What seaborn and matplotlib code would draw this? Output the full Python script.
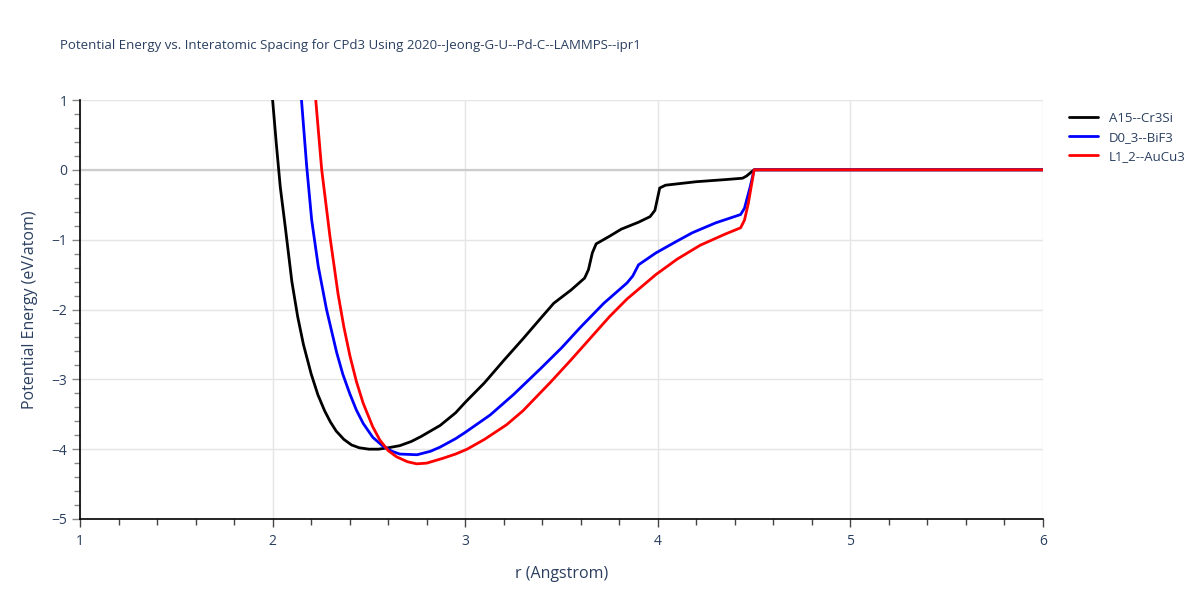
import matplotlib
matplotlib.use("Agg")
import matplotlib.pyplot as plt
import seaborn as sns
import pandas as pd
import numpy as np
from matplotlib.ticker import MultipleLocator

title = "Potential Energy vs. Interatomic Spacing for CPd3 Using 2020--Jeong-G-U--Pd-C--LAMMPS--ipr1"
series_names = ["A15--Cr3Si", "D0_3--BiF3", "L1_2--AuCu3"]
series_colors = ["#000000", "#0000ff", "#ff0000"]

a15_r = [2.0, 2.02, 2.04, 2.065, 2.10, 2.13, 2.16, 2.2, 2.235, 2.27, 2.30, 2.33, 2.37, 2.41,
         2.45, 2.50, 2.55, 2.60, 2.66, 2.72, 2.77, 2.82, 2.87, 2.95, 3.0, 3.1, 3.2, 3.3, 3.4,
         3.46, 3.55, 3.62, 3.64, 3.66, 3.68, 3.75, 3.81, 3.9, 3.96, 3.985, 4.01, 4.04, 4.2,
         4.35, 4.44, 4.46, 4.5, 4.75, 5.0, 5.5, 6.0]
a15_e = [1.0, 0.35, -0.25, -0.8, -1.6, -2.1, -2.5, -2.92, -3.22, -3.45, -3.61, -3.74, -3.86,
         -3.94, -3.98, -4.0, -4.0, -3.98, -3.95, -3.89, -3.82, -3.74, -3.66, -3.48, -3.33,
         -3.05, -2.73, -2.42, -2.1, -1.91, -1.72, -1.55, -1.43, -1.19, -1.06, -0.95, -0.85,
         -0.75, -0.67, -0.58, -0.26, -0.22, -0.17, -0.14, -0.12, -0.09, 0.0, 0.0, 0.0, 0.0, 0.0]

d03_r = [2.15, 2.177, 2.203, 2.237, 2.28, 2.333, 2.365, 2.40, 2.435, 2.47, 2.52, 2.574, 2.62,
         2.66, 2.75, 2.82, 2.87, 2.95, 3.0, 3.13, 3.25, 3.39, 3.5, 3.6, 3.72, 3.84, 3.87, 3.90,
         3.99, 4.1, 4.18, 4.3, 4.43, 4.45, 4.48, 4.5, 4.75, 5.0, 5.5, 6.0]
d03_e = [1.0, 0.05, -0.72, -1.38, -2.0, -2.62, -2.93, -3.2, -3.44, -3.63, -3.83, -3.96, -4.03,
         -4.07, -4.08, -4.03, -3.97, -3.85, -3.76, -3.51, -3.22, -2.85, -2.55, -2.25, -1.91,
         -1.62, -1.52, -1.36, -1.19, -1.02, -0.9, -0.76, -0.64, -0.55, -0.24, 0.0, 0.0, 0.0,
         0.0, 0.0]

l12_r = [2.224, 2.255, 2.298, 2.34, 2.37, 2.402, 2.435, 2.47, 2.52, 2.557, 2.60, 2.644, 2.70,
         2.748, 2.80, 2.885, 2.95, 3.01, 3.1, 3.215, 3.3, 3.44, 3.55, 3.65, 3.75, 3.84, 3.99,
         4.1, 4.22, 4.35, 4.43, 4.45, 4.47, 4.5, 4.75, 5.0, 5.5, 6.0]
l12_e = [1.0, 0.0, -0.96, -1.78, -2.25, -2.67, -3.03, -3.34, -3.68, -3.87, -4.02, -4.11, -4.18,
         -4.21, -4.2, -4.13, -4.07, -4.0, -3.86, -3.65, -3.45, -3.05, -2.72, -2.41, -2.1,
         -1.85, -1.5, -1.28, -1.08, -0.92, -0.83, -0.72, -0.48, 0.0, 0.0, 0.0, 0.0, 0.0]

frames = []
for name, r, e in zip(series_names, [a15_r, d03_r, l12_r], [a15_e, d03_e, l12_e]):
    frames.append(pd.DataFrame({"r": r, "E": e, "structure": name}))
df = pd.concat(frames, ignore_index=True)

sns.set_theme(style="white")
plt.rcParams['font.family'] = ['Open Sans', 'DejaVu Sans']
text_color = "#2a3f5f"

fig = plt.figure(figsize=(12, 6), dpi=100)
ax = fig.add_axes([80/1200, 1-519/600, (1043-80)/1200, (519-100)/600])

ax.set_xlim(1, 6)
ax.set_ylim(-5, 1)
ax.set_xticks([1, 2, 3, 4, 5, 6])
ax.set_yticks([-5, -4, -3, -2, -1, 0, 1])
ax.xaxis.set_minor_locator(MultipleLocator(0.2))
ax.yaxis.set_minor_locator(MultipleLocator(0.2))
ax.grid(True, which="major", color="#e5e5e5", linewidth=1)
ax.set_axisbelow(True)
ax.axhline(0, color="#cccccc", linewidth=1.6, zorder=1)

sns.lineplot(data=df, x="r", y="E", hue="structure", palette=series_colors,
             hue_order=series_names, sort=False, estimator=None, linewidth=2, ax=ax,
             zorder=3)

for s in ["top", "right"]:
    ax.spines[s].set_visible(False)
for s in ["left", "bottom"]:
    ax.spines[s].set_color("black")
    ax.spines[s].set_linewidth(1.2)

ax.tick_params(axis="x", which="major", direction="out", length=6, width=1, color="#444444",
               labelsize=10, labelcolor=text_color, bottom=True, pad=5)
ax.tick_params(axis="x", which="minor", direction="out", length=4, width=1, color="#444444",
               bottom=True)
ax.tick_params(axis="y", which="major", direction="out", length=6, width=1, color="#888888",
               labelsize=10, labelcolor=text_color, left=True, pad=3)
ax.tick_params(axis="y", which="minor", direction="out", length=4, width=1, color="#888888",
               left=True)
ax.set_yticklabels(["\u22125", "\u22124", "\u22123", "\u22122", "\u22121", "0", "1"])

ax.set_xlabel("r (Angstrom)", fontsize=11.5, color=text_color, labelpad=12)
ax.set_ylabel("Potential Energy (eV/atom)", fontsize=11.5, color=text_color, labelpad=10)

fig.text(60/1200, 1-46/600, title, fontsize=9.5, color=text_color, va="center", ha="left")

leg = ax.legend(loc="upper left", bbox_to_anchor=(1.015, 1.0), frameon=False, fontsize=9.5,
                handlelength=2.2, labelspacing=0.45)
for t in leg.get_texts():
    t.set_color(text_color)
for line in leg.get_lines():
    line.set_linewidth(2)

fig.savefig("out.png", dpi=100)
